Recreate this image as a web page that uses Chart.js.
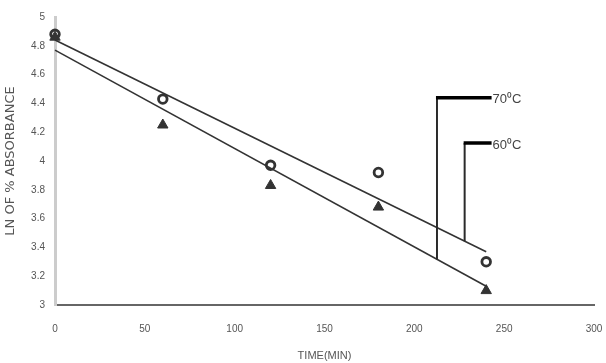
<!DOCTYPE html>
<html>
<head>
<meta charset="utf-8">
<script src="https://cdn.jsdelivr.net/npm/chart.js@4/dist/chart.umd.min.js"></script>
<style>
  html, body { margin: 0; padding: 0; background: #fff; }
  #wrap { width: 606px; height: 363px; }
</style>
</head>
<body>
<div id="wrap"><canvas id="c" width="606" height="363"></canvas></div>
<script>
// Sampling times (min) and ln(% absorbance) at each temperature
const times = [0, 60, 120, 180, 240];
const ln60 = [4.88, 4.43, 3.97, 3.92, 3.30];
const ln70 = [4.86, 4.25, 3.83, 3.68, 3.10];

// Straight-line fits, given by their end points
const trendTimes = [0, 240];
const trend60 = [4.84, 3.37];
const trend70 = [4.77, 3.13];

// Callout labels: where the leader meets its line, and the label level
const calloutLabels = ['70\u2070C', '60\u2070C'];
const calloutTimes = [212.6, 228];
const calloutLevels = [4.44, 4.125];
const calloutEnd = 243;

const xTicks = [0, 50, 100, 150, 200, 250, 300];
const yTicks = [3, 3.2, 3.4, 3.6, 3.8, 4, 4.2, 4.4, 4.6, 4.8, 5];

const FONT = "'Liberation Sans Narrow', 'Liberation Sans', sans-serif";

const pts = (xs, ys) => xs.map((x, i) => ({ x: x, y: ys[i] }));
const lineAt = (ends, t) => ends[0] + (ends[1] - ends[0]) * (t - trendTimes[0]) / (trendTimes[1] - trendTimes[0]);

const calloutPlugin = {
  id: 'callouts',
  afterDatasetsDraw(chart) {
    const { ctx, scales: { x, y } } = chart;
    const trends = [trend70, trend60];
    ctx.save();
    calloutLabels.forEach((lab, i) => {
      const px = x.getPixelForValue(calloutTimes[i]);
      const pyLine = y.getPixelForValue(lineAt(trends[i], calloutTimes[i]));
      const pyLab = y.getPixelForValue(calloutLevels[i]);
      const pxEnd = x.getPixelForValue(calloutEnd);
      ctx.strokeStyle = '#2a2a2a';
      ctx.lineWidth = 2;
      ctx.beginPath();
      ctx.moveTo(px, pyLine);
      ctx.lineTo(px, pyLab);
      ctx.stroke();
      ctx.strokeStyle = '#000';
      ctx.lineWidth = 3.5;
      ctx.beginPath();
      ctx.moveTo(px - 1, pyLab);
      ctx.lineTo(pxEnd, pyLab);
      ctx.stroke();
      ctx.fillStyle = '#444';
      ctx.font = '13px ' + FONT;
      ctx.textBaseline = 'middle';
      ctx.textAlign = 'left';
      ctx.fillText(lab, pxEnd + 1, pyLab + 2);
    });
    ctx.restore();
  }
};

new Chart(document.getElementById('c'), {
  type: 'scatter',
  data: {
    datasets: [
      {
        label: '60 trend', data: pts(trendTimes, trend60), showLine: true,
        borderColor: '#333', borderWidth: 1.6, pointRadius: 0
      },
      {
        label: '70 trend', data: pts(trendTimes, trend70), showLine: true,
        borderColor: '#333', borderWidth: 1.6, pointRadius: 0
      },
      {
        label: '70', data: pts(times, ln70), pointStyle: 'triangle',
        pointRadius: 6, backgroundColor: '#333', borderColor: '#333', borderWidth: 1
      },
      {
        label: '60', data: pts(times, ln60), pointStyle: 'circle',
        pointRadius: 4.3, backgroundColor: '#fff', borderColor: '#333', borderWidth: 2.8
      }
    ]
  },
  options: {
    responsive: false,
    animation: false,
    clip: false,
    layout: { padding: { top: 17, right: 0, left: 0, bottom: 0 } },
    plugins: { legend: { display: false }, tooltip: { enabled: false } },
    scales: {
      x: {
        type: 'linear', min: 0, max: 300,
        afterBuildTicks: s => { s.ticks = xTicks.map(v => ({ value: v })); },
        afterFit: s => { s.height = 58; s.paddingRight = 12; s.paddingLeft = 0; },
        grid: { display: false, drawTicks: false },
        border: { color: '#666', width: 2 },
        ticks: { color: '#555', font: { family: FONT, size: 10 }, padding: 18, maxRotation: 0 },
        title: { display: true, text: 'TIME(MIN)', color: '#555', font: { family: FONT, size: 11 }, padding: { top: 4, bottom: 0 } }
      },
      y: {
        type: 'linear', min: 3, max: 5,
        afterBuildTicks: s => { s.ticks = yTicks.map(v => ({ value: v })); },
        afterFit: s => { s.width = 55; },
        grid: { display: false, drawTicks: false },
        border: { color: '#ccc', width: 3 },
        ticks: { color: '#555', font: { family: FONT, size: 10 }, padding: 10,
          callback: v => String(v) },
        title: { display: true, text: 'LN OF % ABSORBANCE', color: '#555', font: { family: "'DejaVu Sans', sans-serif", size: 13 }, padding: { top: 3, bottom: 0 } }
      }
    }
  },
  plugins: [calloutPlugin]
});
</script>
</body>
</html>
